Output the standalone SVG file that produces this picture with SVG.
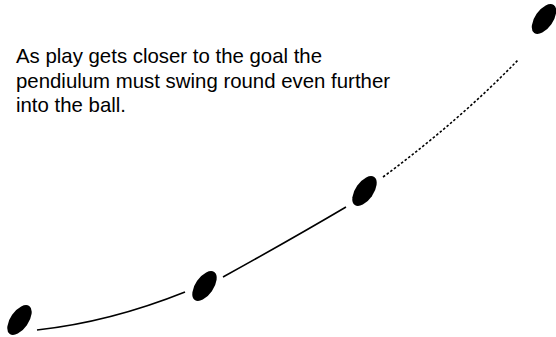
<svg xmlns="http://www.w3.org/2000/svg" width="556" height="337" viewBox="0 0 556 337">
<style>
.t{font-family:"Liberation Sans",Arial,sans-serif;font-size:20.4px;fill:#000}
.ball{fill:#000}
.c{fill:none;stroke:#000;stroke-width:1.6}
.d{stroke-dasharray:2.5 2}
</style>
<rect width="556" height="337" fill="#fff"/>
<g id="caption">
<text class="t" x="16" y="63">As play gets closer to the goal the</text>
<text class="t" x="16" y="87.5">pendiulum must swing round even further</text>
<text class="t" x="16" y="112">into the ball.</text>
</g>
<g id="connectors">
<path class="c" d="M37,330 Q110,322 185,292"/>
<path class="c" d="M223,277 Q290,240 346,207"/>
<path class="c d" d="M383,177 Q460,120 518,60"/>
</g>
<g id="ball1"><ellipse class="ball" cx="19.5" cy="320" rx="17" ry="9" transform="rotate(-55 19.5 320)"/></g>
<g id="ball2"><ellipse class="ball" cx="204.5" cy="286" rx="17" ry="9" transform="rotate(-55 204.5 286)"/></g>
<g id="ball3"><ellipse class="ball" cx="364.5" cy="191" rx="17" ry="9" transform="rotate(-55 364.5 191)"/></g>
<g id="ball4"><ellipse class="ball" cx="544" cy="19" rx="17" ry="9" transform="rotate(-55 544 19)"/></g>
</svg>
